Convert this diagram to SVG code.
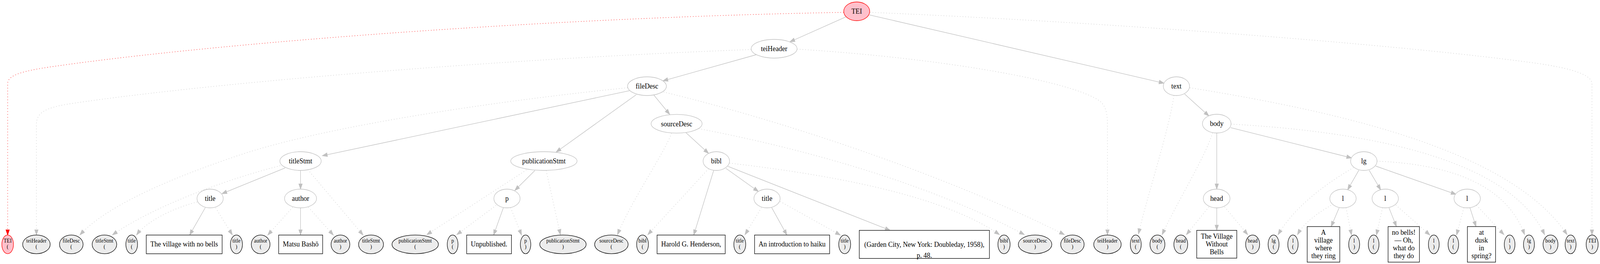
<svg xmlns="http://www.w3.org/2000/svg" width="4392" height="677" viewBox="0 0 4392 677">
<defs>
<style>
.n ellipse{fill:#ffffff;stroke:#c0c0c0;stroke-width:1.33}
.root ellipse{fill:#ffc0cb;stroke:#ff0000;stroke-width:1.33}
.lf ellipse{fill:#ececec;stroke:#000000;stroke-width:1.33}
.lfr ellipse{fill:#ffc0cb;stroke:#ff0000;stroke-width:1.33}
.bx rect{fill:#ffffff;stroke:#000000;stroke-width:1.33}
text{font-family:"Liberation Serif","Times New Roman",serif;fill:#000000;text-anchor:middle}
.L{font-size:18.67px}
.S{font-size:14.3px}
.e{fill:none;stroke:#c0c0c0;stroke-width:1.33;marker-end:url(#ag)}
.d{fill:none;stroke:#c0c0c0;stroke-width:1.33;stroke-dasharray:1.5,6;marker-end:url(#ag)}
.r{fill:none;stroke:#ff0000;stroke-width:1.33;stroke-dasharray:1.5,6;marker-end:url(#ar)}
</style>
<marker id="ag" viewBox="0 0 14 10" refX="13.3" refY="4.67" markerWidth="14" markerHeight="10" markerUnits="userSpaceOnUse" orient="auto" overflow="visible"><path d="M0,0 L13.3,4.67 L0,9.33 Z" fill="#c0c0c0" stroke="#c0c0c0" stroke-width="1.33" stroke-dasharray="none"/></marker>
<marker id="ar" viewBox="0 0 14 10" refX="13.3" refY="4.67" markerWidth="14" markerHeight="10" markerUnits="userSpaceOnUse" orient="auto" overflow="visible"><path d="M0,0 L13.3,4.67 L0,9.33 Z" fill="#ff0000" stroke="#ff0000" stroke-width="1.33" stroke-dasharray="none"/></marker>
</defs>
<rect x="0" y="0" width="4392" height="677" fill="#ffffff"/>
<g id="diagram" transform="scale(0.9326,1)">
<g id="connectors">
<path class="e" d="M2321.7,43.3 L2168.3,107.3"/>
<path class="e" d="M2387,38.3 L3195,213.3"/>
<path class="e" d="M2077,140 L1820,207.3"/>
<path class="e" d="M1727.7,232.7 L885,399.3"/>
<path class="e" d="M1746.7,242.7 L1526.7,390"/>
<path class="e" d="M1795,244 L1838.3,293.3"/>
<path class="e" d="M1882.7,340 L1945,393.3"/>
<path class="e" d="M782.7,430.7 L609.3,496.7"/>
<path class="e" d="M825,437 L825,485"/>
<path class="e" d="M563.5,532.5 L520.5,602.7"/>
<path class="e" d="M825,533 L825,602.7"/>
<path class="e" d="M1468.3,437.3 L1413.3,488.3"/>
<path class="e" d="M1381.7,532.7 L1355,602.7"/>
<path class="e" d="M1959,437.3 L1904.3,602.7"/>
<path class="e" d="M1992.7,431.7 L2081.7,491"/>
<path class="e" d="M1998.3,426.7 L2443.3,590.7"/>
<path class="e" d="M2118.3,532.3 L2160,602.7"/>
<path class="e" d="M3251.7,241 L3318.3,297.3"/>
<path class="e" d="M3340,341 L3340,485"/>
<path class="e" d="M3378.3,327.3 L3710,405"/>
<path class="e" d="M3340,533 L3340,590.7"/>
<path class="e" d="M3730,436.7 L3699.3,486.7"/>
<path class="e" d="M3758.3,436.7 L3790,486.7"/>
<path class="e" d="M3776.7,426 L3996.7,498.3"/>
<path class="e" d="M3676,532.7 L3654,581"/>
<path class="e" d="M3812.7,532.7 L3833.3,581"/>
<path class="e" d="M4035,532.7 L4051.7,581"/>
<path class="r" d="M2316,31.7 C1500,45 600,110 150,170 C50,183 21,195 21,215 L21,602.7"/>
<path class="d" d="M2388,31.7 C3000,55 3800,110 4200,160 C4330,176 4370,195 4370,215 L4370,602.7"/>
<path class="d" d="M2062,127 C1400,150 600,210 200,265 C120,276 100,290 100,320 L100,602.7"/>
<path class="d" d="M2188,126 C2600,150 2950,210 3020,260 C3035,272 3040,290 3040,320 L3040,602.7"/>
<path class="d" d="M1722.7,225 C1400,255 900,320 650,400 C460,460 290,530 219.4,602.3"/>
<path class="d" d="M1821.7,236 C2150,310 2600,450 2921.7,601.7"/>
<path class="d" d="M769,425 C620,460 420,530 308.7,602.3"/>
<path class="d" d="M845,435 L996.7,602.7"/>
<path class="d" d="M541,518 C470,535 400,570 375,602.3"/>
<path class="d" d="M592,533 L637.8,602.3"/>
<path class="d" d="M803.3,531.7 L735,602.7"/>
<path class="d" d="M846.7,531.7 L915,602.7"/>
<path class="d" d="M1445,436 L1171.7,601.7"/>
<path class="d" d="M1499.3,437.3 L1538.3,601.7"/>
<path class="d" d="M1361.7,526.7 L1254,601.7"/>
<path class="d" d="M1401.7,532.7 L1431.7,602.7"/>
<path class="d" d="M1843.3,341.7 C1825,390 1730,520 1695,601.7"/>
<path class="d" d="M1918.3,330 C2200,380 2550,470 2811.7,601.7"/>
<path class="d" d="M1945,432.7 L1778.3,601.7"/>
<path class="d" d="M2002.7,418.3 C2250,445 2580,495 2743.3,601.7"/>
<path class="d" d="M2090,532.7 L2045,601.7"/>
<path class="d" d="M2141.7,516.7 L2306.7,602.7"/>
<path class="d" d="M3222.3,245 C3210,330 3150,500 3125,600"/>
<path class="d" d="M3266,225 C3700,290 4150,390 4301.7,601.7"/>
<path class="d" d="M3328.3,341 C3310,400 3230,520 3190,601.7"/>
<path class="d" d="M3379.3,318.3 C3800,340 4150,420 4240,601.7"/>
<path class="d" d="M3318.3,530.7 L3256.7,601.7"/>
<path class="d" d="M3361.7,530.7 L3425,601.7"/>
<path class="d" d="M3715,430 C3660,460 3560,520 3508.3,601.7"/>
<path class="d" d="M3780,413.3 C3950,420 4130,460 4185,601.7"/>
<path class="d" d="M3653.3,526.7 C3620,545 3580,570 3561.7,601.7"/>
<path class="d" d="M3695,532.7 L3710,602.7"/>
<path class="d" d="M3795,532.7 L3778.3,602.7"/>
<path class="d" d="M3831.7,526 L3925,602.7"/>
<path class="d" d="M4018.3,532.7 L3998.3,602.7"/>
<path class="d" d="M4053.3,526.7 L4128.3,601.7"/>
</g>

<g id="n-TEI" class="root"><ellipse cx="2351.7" cy="29" rx="35.7" ry="24"/><text class="L" x="2351.7" y="35.3">TEI</text></g>
<g id="n-teiHeader" class="n"><ellipse cx="2125" cy="125" rx="63" ry="24"/><text class="L" x="2125" y="131.3">teiHeader</text></g>
<g id="n-fileDesc" class="n"><ellipse cx="1776" cy="221" rx="53.3" ry="24"/><text class="L" x="1776" y="227.3">fileDesc</text></g>
<g id="n-sourceDesc" class="n"><ellipse cx="1857.3" cy="317.3" rx="70" ry="24"/><text class="L" x="1857.3" y="323.6">sourceDesc</text></g>
<g id="n-titleStmt" class="n"><ellipse cx="825" cy="413" rx="56.7" ry="24"/><text class="L" x="825" y="419.3">titleStmt</text></g>
<g id="n-publicationStmt" class="n"><ellipse cx="1493" cy="413" rx="91" ry="24"/><text class="L" x="1493" y="419.3">publicationStmt</text></g>
<g id="n-bibl" class="n"><ellipse cx="1966.3" cy="413" rx="36.3" ry="24"/><text class="L" x="1966.3" y="419.3">bibl</text></g>
<g id="n-title1" class="n"><ellipse cx="576.8" cy="509" rx="36" ry="24"/><text class="L" x="576.8" y="515.3">title</text></g>
<g id="n-author" class="n"><ellipse cx="825" cy="509" rx="44" ry="24"/><text class="L" x="825" y="515.3">author</text></g>
<g id="n-p" class="n"><ellipse cx="1391.7" cy="509" rx="36" ry="24"/><text class="L" x="1391.7" y="515.3">p</text></g>
<g id="n-title2" class="n"><ellipse cx="2105.5" cy="509" rx="36" ry="24"/><text class="L" x="2105.5" y="515.3">title</text></g>
<g id="n-text" class="n"><ellipse cx="3229.3" cy="221" rx="36" ry="24"/><text class="L" x="3229.3" y="227.3">text</text></g>
<g id="n-body" class="n"><ellipse cx="3340" cy="317" rx="39.3" ry="24"/><text class="L" x="3340" y="323.3">body</text></g>
<g id="n-lg" class="n"><ellipse cx="3743.7" cy="413" rx="36.3" ry="24"/><text class="L" x="3743.7" y="419.3">lg</text></g>
<g id="n-head" class="n"><ellipse cx="3339.7" cy="509" rx="36.7" ry="24"/><text class="L" x="3339.7" y="515.3">head</text></g>
<g id="n-l1" class="n"><ellipse cx="3686.5" cy="509" rx="36.2" ry="24"/><text class="L" x="3686.5" y="515.3">l</text></g>
<g id="n-l2" class="n"><ellipse cx="3802.5" cy="509" rx="36.2" ry="24"/><text class="L" x="3802.5" y="515.3">l</text></g>
<g id="n-l3" class="n"><ellipse cx="4027.5" cy="509" rx="36.2" ry="24"/><text class="L" x="4027.5" y="515.3">l</text></g>

<g id="lf-TEI-open" class="lfr"><ellipse cx="21" cy="626.7" rx="16" ry="24"/><text class="S" x="21" y="622.5">TEI</text><text class="S" x="21" y="637.5">(</text></g>
<g id="lf-teiHeader-open" class="lf"><ellipse cx="100" cy="626.7" rx="37.8" ry="24"/><text class="S" x="100" y="622.5">teiHeader</text><text class="S" x="100" y="637.5">(</text></g>
<g id="lf-fileDesc-open" class="lf"><ellipse cx="195.7" cy="626.7" rx="32.4" ry="24"/><text class="S" x="195.7" y="622.5">fileDesc</text><text class="S" x="195.7" y="637.5">(</text></g>
<g id="lf-titleStmt-open" class="lf"><ellipse cx="286.7" cy="626.7" rx="33.7" ry="24"/><text class="S" x="286.7" y="622.5">titleStmt</text><text class="S" x="286.7" y="637.5">(</text></g>
<g id="lf-title1-open" class="lf"><ellipse cx="361.5" cy="626.7" rx="16" ry="24"/><text class="S" x="361.5" y="622.5">title</text><text class="S" x="361.5" y="637.5">(</text></g>
<g id="bx-title1" class="bx"><rect x="401.5" y="602.7" width="208.2" height="48"/><text class="L" x="505.6" y="632.5">The village with no bells</text></g>
<g id="lf-title1-close" class="lf"><ellipse cx="649" cy="626.7" rx="16.5" ry="24"/><text class="S" x="649" y="622.5">title</text><text class="S" x="649" y="637.5">)</text></g>
<g id="lf-author-open" class="lf"><ellipse cx="715.5" cy="626.7" rx="25.7" ry="24"/><text class="S" x="715.5" y="622.5">author</text><text class="S" x="715.5" y="637.5">(</text></g>
<g id="bx-author" class="bx"><rect x="765" y="602.7" width="120.7" height="48"/><text class="L" x="825.3" y="632.5">Matsu Bashō</text></g>
<g id="lf-author-close" class="lf"><ellipse cx="934.5" cy="626.7" rx="25.8" ry="24"/><text class="S" x="934.5" y="622.5">author</text><text class="S" x="934.5" y="637.5">)</text></g>
<g id="lf-titleStmt-close" class="lf"><ellipse cx="1018.5" cy="626.7" rx="34.2" ry="24"/><text class="S" x="1018.5" y="622.5">titleStmt</text><text class="S" x="1018.5" y="637.5">)</text></g>
<g id="lf-publicationStmt-open" class="lf"><ellipse cx="1139.7" cy="626.7" rx="63.7" ry="24"/><text class="S" x="1139.7" y="622.5">publicationStmt</text><text class="S" x="1139.7" y="637.5">(</text></g>
<g id="lf-p-open" class="lf"><ellipse cx="1242.5" cy="626.7" rx="14.8" ry="24"/><text class="S" x="1242.5" y="622.5">p</text><text class="S" x="1242.5" y="637.5">(</text></g>
<g id="bx-p" class="bx"><rect x="1281" y="602.7" width="123" height="48"/><text class="L" x="1342.5" y="632.5">Unpublished.</text></g>
<g id="lf-p-close" class="lf"><ellipse cx="1442.7" cy="626.7" rx="14.3" ry="24"/><text class="S" x="1442.7" y="622.5">p</text><text class="S" x="1442.7" y="637.5">)</text></g>
<g id="lf-publicationStmt-close" class="lf"><ellipse cx="1545.3" cy="626.7" rx="63.7" ry="24"/><text class="S" x="1545.3" y="622.5">publicationStmt</text><text class="S" x="1545.3" y="637.5">)</text></g>
<g id="lf-sourceDesc-open" class="lf"><ellipse cx="1678.3" cy="626.7" rx="46" ry="24"/><text class="S" x="1678.3" y="622.5">sourceDesc</text><text class="S" x="1678.3" y="637.5">(</text></g>
<g id="lf-bibl-open" class="lf"><ellipse cx="1763.8" cy="626.7" rx="16.2" ry="24"/><text class="S" x="1763.8" y="622.5">bibl</text><text class="S" x="1763.8" y="637.5">(</text></g>
<g id="bx-bibl-author" class="bx"><rect x="1803.7" y="602.7" width="187" height="48"/><text class="L" x="1897.2" y="632.5">Harold G. Henderson,</text></g>
<g id="lf-title2-open" class="lf"><ellipse cx="2030.7" cy="626.7" rx="16.3" ry="24"/><text class="S" x="2030.7" y="622.5">title</text><text class="S" x="2030.7" y="637.5">(</text></g>
<g id="bx-title2" class="bx"><rect x="2071.3" y="602.7" width="206" height="48"/><text class="L" x="2174.3" y="632.5">An introduction to haiku</text></g>
<g id="lf-title2-close" class="lf"><ellipse cx="2318.7" cy="626.7" rx="16.3" ry="24"/><text class="S" x="2318.7" y="622.5">title</text><text class="S" x="2318.7" y="637.5">)</text></g>
<g id="bx-bibl-imprint" class="bx"><rect x="2358.7" y="590.7" width="357.3" height="72"/><text class="L" x="2537.3" y="633">(Garden City, New York: Doubleday, 1958),</text><text class="L" x="2537.3" y="661">p. 48.</text></g>
<g id="lf-bibl-close" class="lf"><ellipse cx="2756" cy="626.7" rx="16.7" ry="24"/><text class="S" x="2756" y="622.5">bibl</text><text class="S" x="2756" y="637.5">)</text></g>
<g id="lf-sourceDesc-close" class="lf"><ellipse cx="2841.3" cy="626.7" rx="46" ry="24"/><text class="S" x="2841.3" y="622.5">sourceDesc</text><text class="S" x="2841.3" y="637.5">)</text></g>
<g id="lf-fileDesc-close" class="lf"><ellipse cx="2943.8" cy="626.7" rx="32.2" ry="24"/><text class="S" x="2943.8" y="622.5">fileDesc</text><text class="S" x="2943.8" y="637.5">)</text></g>
<g id="lf-teiHeader-close" class="lf"><ellipse cx="3040" cy="626.7" rx="37.7" ry="24"/><text class="S" x="3040" y="622.5">teiHeader</text><text class="S" x="3040" y="637.5">)</text></g>
<g id="lf-text-open" class="lf"><ellipse cx="3117.7" cy="626.7" rx="15" ry="24"/><text class="S" x="3117.7" y="622.5">text</text><text class="S" x="3117.7" y="637.5">(</text></g>
<g id="lf-body-open" class="lf"><ellipse cx="3177.2" cy="626.7" rx="20.5" ry="24"/><text class="S" x="3177.2" y="622.5">body</text><text class="S" x="3177.2" y="637.5">(</text></g>
<g id="lf-head-open" class="lf"><ellipse cx="3241.3" cy="626.7" rx="19" ry="24"/><text class="S" x="3241.3" y="622.5">head</text><text class="S" x="3241.3" y="637.5">(</text></g>
<g id="bx-head" class="bx"><rect x="3285" y="590.7" width="110" height="71.3"/><text class="L" x="3340" y="612.3">The Village</text><text class="L" x="3340" y="632.3">Without</text><text class="L" x="3340" y="651.7">Bells</text></g>
<g id="lf-head-close" class="lf"><ellipse cx="3438.5" cy="626.7" rx="19.2" ry="24"/><text class="S" x="3438.5" y="622.5">head</text><text class="S" x="3438.5" y="637.5">)</text></g>
<g id="lf-lg-open" class="lf"><ellipse cx="3496" cy="626.7" rx="15" ry="24"/><text class="S" x="3496" y="622.5">lg</text><text class="S" x="3496" y="637.5">(</text></g>
<g id="lf-l1-open" class="lf"><ellipse cx="3549.2" cy="626.7" rx="14.2" ry="24"/><text class="S" x="3549.2" y="622.5">l</text><text class="S" x="3549.2" y="637.5">(</text></g>
<g id="bx-l1" class="bx"><rect x="3588.3" y="581" width="89.4" height="91.3"/><text class="L" x="3633" y="602.3">A</text><text class="L" x="3633" y="622.3">village</text><text class="L" x="3633" y="642.3">where</text><text class="L" x="3633" y="661.7">they ring</text></g>
<g id="lf-l1-close" class="lf"><ellipse cx="3717.2" cy="626.7" rx="15" ry="24"/><text class="S" x="3717.2" y="622.5">l</text><text class="S" x="3717.2" y="637.5">)</text></g>
<g id="lf-l2-open" class="lf"><ellipse cx="3770.7" cy="626.7" rx="14.7" ry="24"/><text class="S" x="3770.7" y="622.5">l</text><text class="S" x="3770.7" y="637.5">(</text></g>
<g id="bx-l2" class="bx"><rect x="3810.3" y="581" width="86" height="91.3"/><text class="L" x="3853.3" y="602.3">no bells!</text><text class="L" x="3853.3" y="622.3">— Oh,</text><text class="L" x="3853.3" y="642.3">what do</text><text class="L" x="3853.3" y="661.7">they do</text></g>
<g id="lf-l2-close" class="lf"><ellipse cx="3935.8" cy="626.7" rx="14.8" ry="24"/><text class="S" x="3935.8" y="622.5">l</text><text class="S" x="3935.8" y="637.5">)</text></g>
<g id="lf-l3-open" class="lf"><ellipse cx="3989.5" cy="626.7" rx="14.5" ry="24"/><text class="S" x="3989.5" y="622.5">l</text><text class="S" x="3989.5" y="637.5">(</text></g>
<g id="bx-l3" class="bx"><rect x="4028" y="581" width="77.3" height="91.3"/><text class="L" x="4066.7" y="602.3">at</text><text class="L" x="4066.7" y="622.3">dusk</text><text class="L" x="4066.7" y="642.3">in</text><text class="L" x="4066.7" y="661.7">spring?</text></g>
<g id="lf-l3-close" class="lf"><ellipse cx="4144" cy="626.7" rx="14.7" ry="24"/><text class="S" x="4144" y="622.5">l</text><text class="S" x="4144" y="637.5">)</text></g>
<g id="lf-lg-close" class="lf"><ellipse cx="4197" cy="626.7" rx="15" ry="24"/><text class="S" x="4197" y="622.5">lg</text><text class="S" x="4197" y="637.5">)</text></g>
<g id="lf-body-close" class="lf"><ellipse cx="4256.2" cy="626.7" rx="20.5" ry="24"/><text class="S" x="4256.2" y="622.5">body</text><text class="S" x="4256.2" y="637.5">)</text></g>
<g id="lf-text-close" class="lf"><ellipse cx="4311.3" cy="626.7" rx="15" ry="24"/><text class="S" x="4311.3" y="622.5">text</text><text class="S" x="4311.3" y="637.5">)</text></g>
<g id="lf-TEI-close" class="lf"><ellipse cx="4370.5" cy="626.7" rx="16.5" ry="24"/><text class="S" x="4370.5" y="622.5">TEI</text><text class="S" x="4370.5" y="637.5">)</text></g>
</g>
</svg>
